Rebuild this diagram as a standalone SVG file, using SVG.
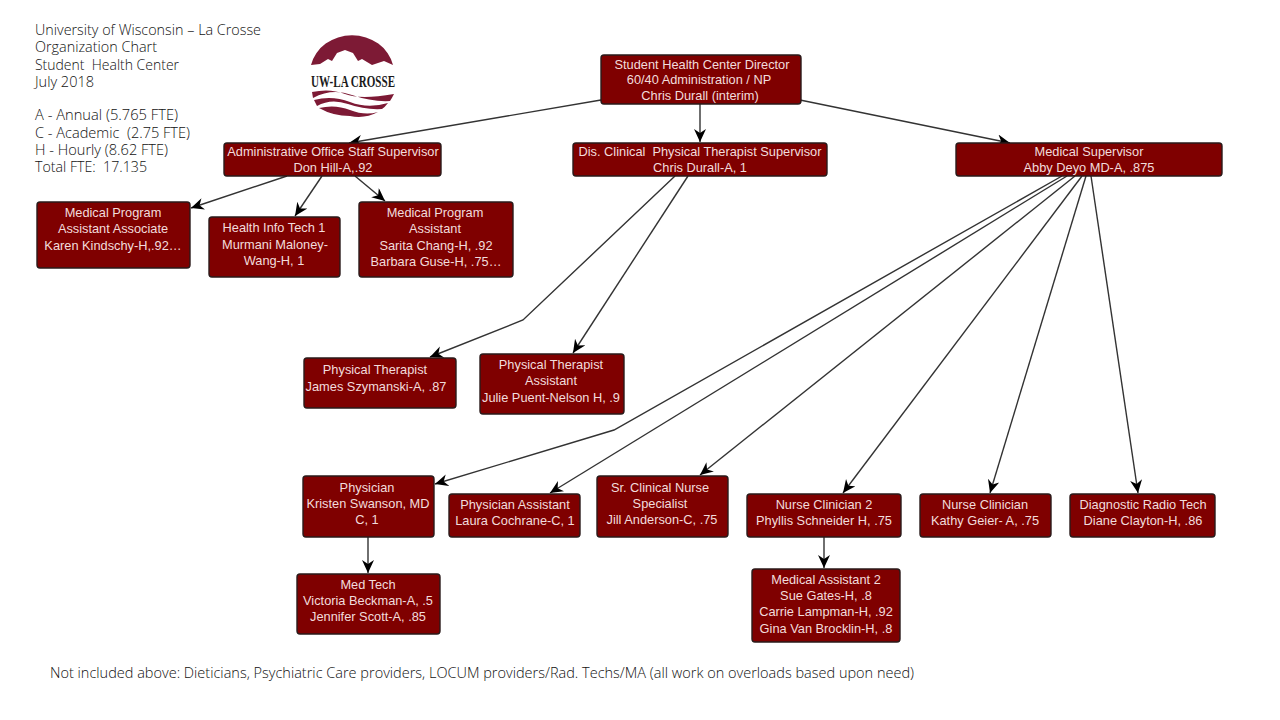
<svg xmlns="http://www.w3.org/2000/svg" width="1280" height="720" viewBox="0 0 1280 720">
<style>
.n{fill:#7f0000;stroke:#2a1a1a;stroke-width:1.4}
.t{font-family:"Liberation Sans",Arial,sans-serif;font-size:12.8px;fill:#f2dcdc;text-anchor:middle}
.i{font-family:"Open Sans","Noto Sans",sans-serif;font-weight:300;font-size:14px;fill:#111}
.c{fill:none;stroke:#333;stroke-width:1.4;marker-end:url(#a)}
</style>
<defs>
<marker id="a" markerUnits="userSpaceOnUse" markerWidth="16" markerHeight="14" refX="13" refY="6" orient="auto">
<path d="M0 0L13 6L0 12L4 6Z" fill="#000"/>
</marker>
</defs>
<rect width="1280" height="720" fill="#fff"/>
<g id="info" class="i">
<text x="35" y="35" textLength="226" lengthAdjust="spacingAndGlyphs">University of Wisconsin – La Crosse</text>
<text x="35" y="52" textLength="122" lengthAdjust="spacingAndGlyphs">Organization Chart</text>
<text x="35" y="70" textLength="144" lengthAdjust="spacingAndGlyphs">Student&#160; Health Center</text>
<text x="35" y="87" textLength="59" lengthAdjust="spacingAndGlyphs">July 2018</text>
<text x="35" y="120" textLength="143" lengthAdjust="spacingAndGlyphs">A - Annual (5.765 FTE)</text>
<text x="35" y="138" textLength="155" lengthAdjust="spacingAndGlyphs">C - Academic&#160; (2.75 FTE)</text>
<text x="35" y="155" textLength="133" lengthAdjust="spacingAndGlyphs">H - Hourly (8.62 FTE)</text>
<text x="35" y="172" textLength="112" lengthAdjust="spacingAndGlyphs">Total FTE:&#160; 17.135</text>
</g>
<g id="logo">
<path d="M311 65A42 38 0 0 1 393 65L384 61L372 65L362 59L358 61L353 53L345 50L337 53L332 61L328 59L320 64Z" fill="#7d1a35"/>
<text x="353" y="87" text-anchor="middle" textLength="84" lengthAdjust="spacingAndGlyphs" style="font-family:'Liberation Serif',serif;font-size:17px;font-weight:bold;fill:#1a1a1a">UW-LA CROSSE</text>
<path d="M312 92Q330 88 345 94T394 94Q392 98 390 101Q372 102 352 95T313 98Z" fill="#7d1a35"/>
<path d="M314 100Q332 95 350 102T388 103Q385 107 382 109Q365 110 348 104T317 106Z" fill="#7d1a35"/>
<path d="M319 108Q335 104 350 110T378 112Q365 119 350 116Q333 116 319 108Z" fill="#7d1a35"/>
</g>
<g id="connectors">
<path class="c" d="M601 100L349 143"/>
<path class="c" d="M700 104L700 142"/>
<path class="c" d="M800 100L1010 143"/>
<path class="c" d="M287 176L191 208"/>
<path class="c" d="M322 176L295 216"/>
<path class="c" d="M355 176L385 201"/>
<path class="c" d="M675 176L523 320L430 357"/>
<path class="c" d="M688 176L573 353"/>
<path class="c" d="M1062 176L614 430L435 484"/>
<path class="c" d="M1067 176L550 493"/>
<path class="c" d="M1075 176L700 475"/>
<path class="c" d="M1082 176L843 493"/>
<path class="c" d="M1086 176L990 493"/>
<path class="c" d="M1091 176L1138 493"/>
<path class="c" d="M368 537L368 573"/>
<path class="c" d="M824 537L824 568"/>
</g>
<g id="n1"><rect class="n" x="601" y="55" width="200" height="49" rx="3"/><text class="t" x="702" y="69">Student Health Center Director</text><text class="t" x="699" y="84">60/40 Administration / NP</text><text class="t" x="700" y="100">Chris Durall (interim)</text></g>
<g id="n2"><rect class="n" x="224" y="143" width="217" height="33" rx="3"/><text class="t" x="333" y="156">Administrative Office Staff Supervisor</text><text class="t" x="333" y="172">Don Hill-A,.92</text></g>
<g id="n3"><rect class="n" x="573" y="143" width="254" height="33" rx="3"/><text class="t" x="700" y="156">Dis. Clinical&#160; Physical Therapist Supervisor</text><text class="t" x="700" y="172">Chris Durall-A, 1</text></g>
<g id="n4"><rect class="n" x="956" y="143" width="266" height="33" rx="3"/><text class="t" x="1089" y="156">Medical Supervisor</text><text class="t" x="1089" y="172">Abby Deyo MD-A, .875</text></g>
<g id="n5"><rect class="n" x="37" y="202" width="153" height="66" rx="3"/><text class="t" x="113" y="217">Medical Program</text><text class="t" x="113" y="233">Assistant Associate</text><text class="t" x="113" y="250">Karen Kindschy-H,.92…</text></g>
<g id="n6"><rect class="n" x="209" y="217" width="131" height="60" rx="3"/><text class="t" x="274" y="232">Health Info Tech 1</text><text class="t" x="275" y="249">Murmani Maloney-</text><text class="t" x="274" y="265">Wang-H, 1</text></g>
<g id="n7"><rect class="n" x="359" y="202" width="154" height="75" rx="3"/><text class="t" x="435" y="217">Medical Program</text><text class="t" x="435" y="233">Assistant</text><text class="t" x="436" y="250">Sarita Chang-H, .92</text><text class="t" x="436" y="266">Barbara Guse-H, .75…</text></g>
<g id="n8"><rect class="n" x="304" y="358" width="152" height="50" rx="3"/><text class="t" x="375" y="374">Physical Therapist</text><text class="t" x="376" y="391">James Szymanski-A, .87</text></g>
<g id="n9"><rect class="n" x="480" y="354" width="144" height="60" rx="3"/><text class="t" x="551" y="369">Physical Therapist</text><text class="t" x="551" y="385">Assistant</text><text class="t" x="551" y="402">Julie Puent-Nelson H, .9</text></g>
<g id="n10"><rect class="n" x="303" y="476" width="131" height="61" rx="3"/><text class="t" x="367" y="492">Physician</text><text class="t" x="368" y="508">Kristen Swanson, MD</text><text class="t" x="367" y="524">C, 1</text></g>
<g id="n11"><rect class="n" x="449" y="494" width="131" height="43" rx="3"/><text class="t" x="515" y="509">Physician Assistant</text><text class="t" x="515" y="525">Laura Cochrane-C, 1</text></g>
<g id="n12"><rect class="n" x="597" y="476" width="131" height="61" rx="3"/><text class="t" x="660" y="492">Sr. Clinical Nurse</text><text class="t" x="660" y="508">Specialist</text><text class="t" x="662" y="524">Jill Anderson-C, .75</text></g>
<g id="n13"><rect class="n" x="747" y="494" width="154" height="43" rx="3"/><text class="t" x="824" y="509">Nurse Clinician 2</text><text class="t" x="824" y="525">Phyllis Schneider H, .75</text></g>
<g id="n14"><rect class="n" x="920" y="494" width="131" height="43" rx="3"/><text class="t" x="985" y="509">Nurse Clinician</text><text class="t" x="985" y="525">Kathy Geier- A, .75</text></g>
<g id="n15"><rect class="n" x="1070" y="494" width="145" height="43" rx="3"/><text class="t" x="1143" y="509">Diagnostic Radio Tech</text><text class="t" x="1143" y="525">Diane Clayton-H, .86</text></g>
<g id="n16"><rect class="n" x="297" y="574" width="143" height="60" rx="3"/><text class="t" x="368" y="589">Med Tech</text><text class="t" x="368" y="605">Victoria Beckman-A, .5</text><text class="t" x="368" y="621">Jennifer Scott-A, .85</text></g>
<g id="n17"><rect class="n" x="752" y="569" width="148" height="73" rx="3"/><text class="t" x="826" y="584">Medical Assistant 2</text><text class="t" x="826" y="600">Sue Gates-H, .8</text><text class="t" x="826" y="616">Carrie Lampman-H, .92</text><text class="t" x="826" y="633">Gina Van Brocklin-H, .8</text></g>
<text id="note" class="i" x="50" y="678" textLength="864" lengthAdjust="spacingAndGlyphs">Not included above: Dieticians, Psychiatric Care providers, LOCUM providers/Rad. Techs/MA (all work on overloads based upon need)</text>
</svg>
